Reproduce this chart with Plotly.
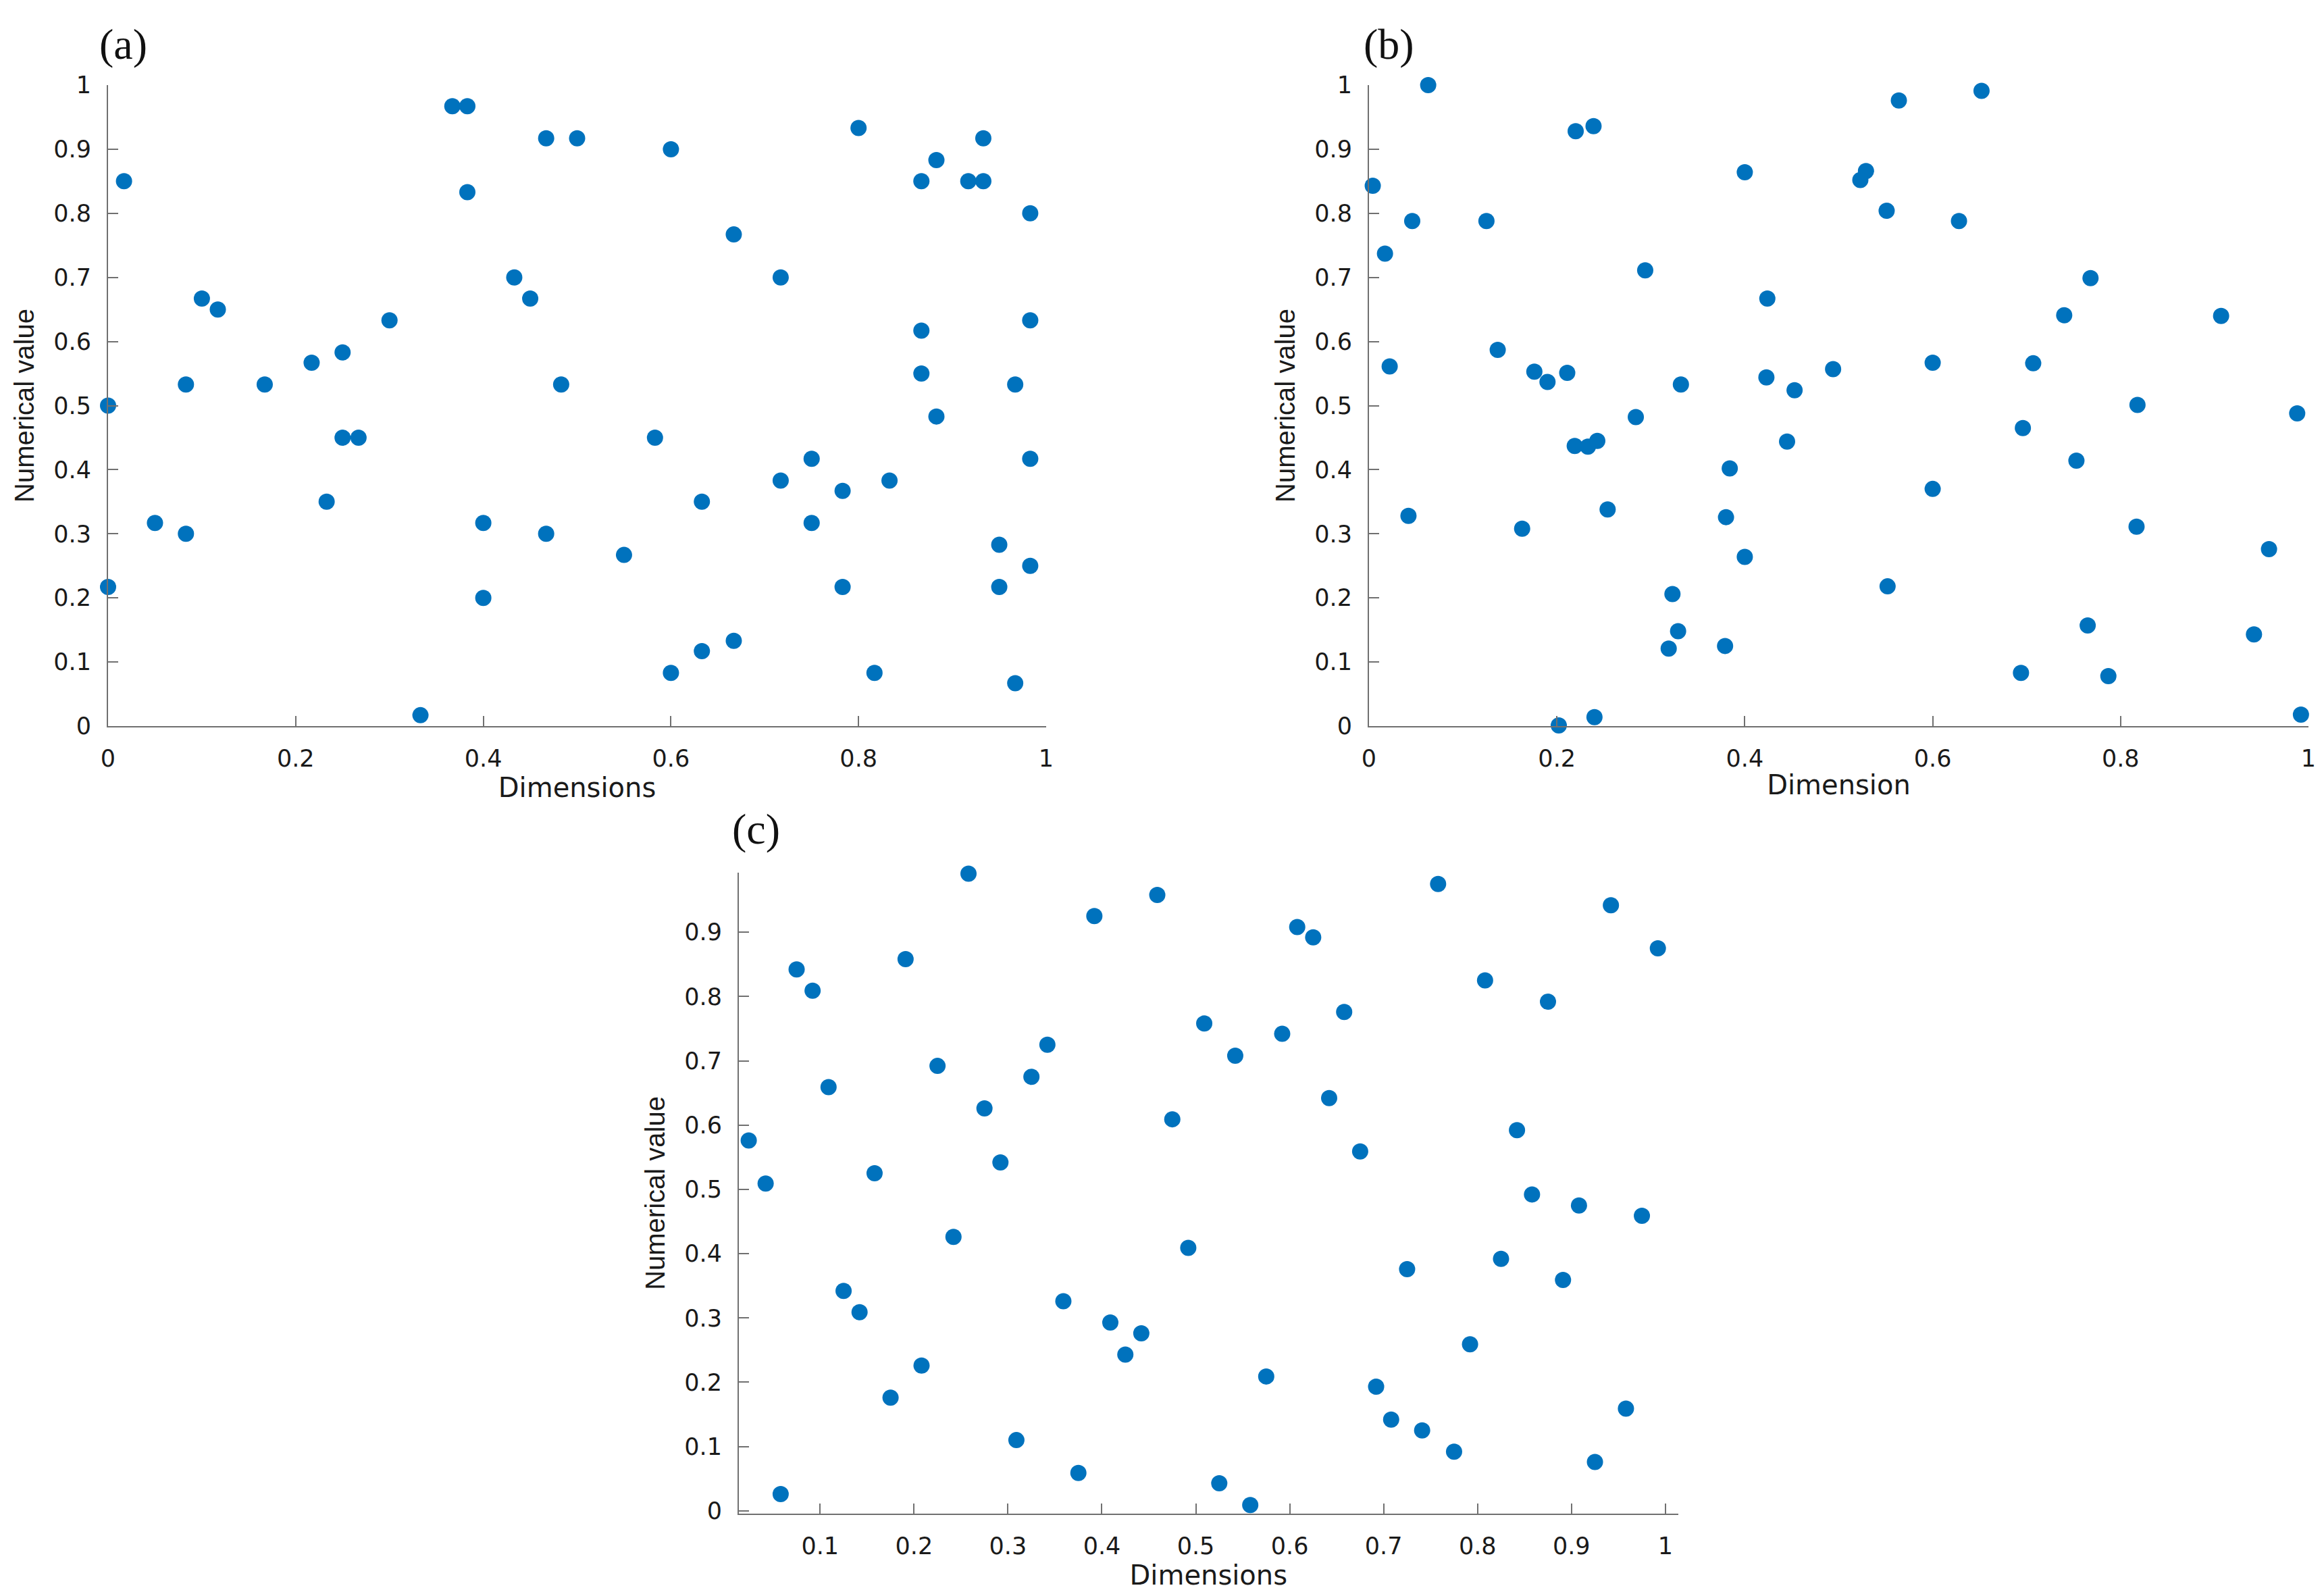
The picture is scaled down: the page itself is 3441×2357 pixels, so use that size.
import plotly.graph_objects as go

# (a) Dimensions vs numerical value
xa = [0, 0, 0.017, 0.05, 0.083, 0.083, 0.1, 0.117, 0.167, 0.217, 0.233, 0.25, 0.25, 0.267, 0.3,
      0.333, 0.367, 0.383, 0.383, 0.4, 0.4, 0.433, 0.45, 0.467, 0.5, 0.467, 0.483, 0.55, 0.583, 0.6,
      0.6, 0.633, 0.633, 0.667, 0.667, 0.717, 0.717, 0.75, 0.75, 0.783, 0.783, 0.8, 0.817, 0.833, 0.867,
      0.867, 0.867, 0.883, 0.883, 0.917, 0.933, 0.933, 0.95, 0.95, 0.967, 0.967, 0.983, 0.983, 0.983, 0.983]
ya = [0.5, 0.217, 0.85, 0.317, 0.3, 0.533, 0.667, 0.65, 0.533, 0.567, 0.35, 0.583, 0.45, 0.45, 0.633,
      0.017, 0.967, 0.967, 0.833, 0.317, 0.2, 0.7, 0.667, 0.917, 0.917, 0.3, 0.533, 0.267, 0.45, 0.9,
      0.083, 0.35, 0.117, 0.133, 0.767, 0.7, 0.383, 0.417, 0.317, 0.367, 0.217, 0.933, 0.083, 0.383, 0.85,
      0.617, 0.55, 0.883, 0.483, 0.85, 0.85, 0.917, 0.283, 0.217, 0.533, 0.067, 0.8, 0.633, 0.417, 0.25]

# (b)
xb = [0.004, 0.017, 0.022, 0.042, 0.046, 0.063, 0.125, 0.137, 0.163, 0.176, 0.190, 0.211, 0.202, 0.220,
      0.239, 0.219, 0.233, 0.243, 0.240, 0.254, 0.284, 0.294, 0.332, 0.323, 0.329, 0.319, 0.384, 0.380,
      0.379, 0.400, 0.564, 0.652, 0.529, 0.523, 0.551, 0.628, 0.768, 0.424, 0.740, 0.907, 0.600, 0.707,
      0.423, 0.494, 0.453, 0.818, 0.988, 0.696, 0.445, 0.753, 0.600, 0.817, 0.400, 0.958, 0.552, 0.765,
      0.942, 0.694, 0.787, 0.992]
yb = [0.843, 0.737, 0.561, 0.328, 0.788, 1.0, 0.788, 0.587, 0.308, 0.553, 0.537, 0.551, 0.001, 0.928,
      0.936, 0.437, 0.436, 0.445, 0.014, 0.338, 0.482, 0.711, 0.533, 0.206, 0.148, 0.121, 0.402, 0.326,
      0.125, 0.864, 0.976, 0.991, 0.866, 0.852, 0.804, 0.788, 0.699, 0.667, 0.641, 0.640, 0.567, 0.566,
      0.544, 0.557, 0.524, 0.501, 0.488, 0.465, 0.444, 0.414, 0.370, 0.311, 0.264, 0.276, 0.218, 0.157,
      0.143, 0.083, 0.078, 0.018]

# (c)
xc = [0.024, 0.042, 0.058, 0.075, 0.092, 0.109, 0.125, 0.142, 0.158, 0.175, 0.191, 0.208, 0.225, 0.242,
      0.258, 0.275, 0.292, 0.309, 0.325, 0.342, 0.359, 0.375, 0.392, 0.409, 0.425, 0.442, 0.459, 0.475,
      0.492, 0.509, 0.525, 0.542, 0.558, 0.575, 0.592, 0.608, 0.625, 0.642, 0.658, 0.675, 0.692, 0.708,
      0.725, 0.741, 0.758, 0.775, 0.792, 0.808, 0.825, 0.842, 0.858, 0.875, 0.891, 0.908, 0.925, 0.942,
      0.958, 0.975, 0.992]
yc = [0.576, 0.509, 0.026, 0.842, 0.809, 0.659, 0.342, 0.309, 0.525, 0.176, 0.858, 0.226, 0.692, 0.426,
      0.991, 0.626, 0.542, 0.110, 0.675, 0.725, 0.326, 0.059, 0.925, 0.293, 0.243, 0.276, 0.958, 0.609,
      0.409, 0.758, 0.043, 0.708, 0.009, 0.209, 0.742, 0.908, 0.892, 0.642, 0.776, 0.559, 0.193, 0.142,
      0.376, 0.125, 0.975, 0.092, 0.259, 0.825, 0.392, 0.592, 0.492, 0.792, 0.359, 0.475, 0.076, 0.942,
      0.159, 0.459, 0.875]

ticks_ab = [0, 0.2, 0.4, 0.6, 0.8, 1]
ticks_ab_text = ["0", "0.2", "0.4", "0.6", "0.8", "1"]
yticks_ab = [0, 0.1, 0.2, 0.3, 0.4, 0.5, 0.6, 0.7, 0.8, 0.9, 1]
yticks_ab_text = ["0", "0.1", "0.2", "0.3", "0.4", "0.5", "0.6", "0.7", "0.8", "0.9", "1"]
xticks_c = [0.1, 0.2, 0.3, 0.4, 0.5, 0.6, 0.7, 0.8, 0.9, 1]
xticks_c_text = ["0.1", "0.2", "0.3", "0.4", "0.5", "0.6", "0.7", "0.8", "0.9", "1"]
yticks_c = [0, 0.1, 0.2, 0.3, 0.4, 0.5, 0.6, 0.7, 0.8, 0.9]
yticks_c_text = ["0", "0.1", "0.2", "0.3", "0.4", "0.5", "0.6", "0.7", "0.8", "0.9"]

BLUE = "#0072BD"
W, H = 3441, 2357

fig = go.Figure()
for x, y, xa_id, ya_id in [(xa, ya, "x", "y"), (xb, yb, "x2", "y2"), (xc, yc, "x3", "y3")]:
    fig.add_trace(go.Scatter(
        x=x, y=y, mode="markers", xaxis=xa_id, yaxis=ya_id,
        marker=dict(color=BLUE, size=24, line=dict(width=0)),
        cliponaxis=False, showlegend=False,
    ))

tickfont = dict(family="DejaVu Sans", size=35, color="#1a1a1a")
xtitlefont = dict(family="DejaVu Sans", size=40, color="#1a1a1a")
ytitlefont = dict(family="Liberation Sans", size=40, color="#1a1a1a")


def ax(**kw):
    base = dict(showline=True, linecolor="#707070", linewidth=2, ticks="inside", ticklen=15,
                tickwidth=2, tickcolor="#707070", showgrid=False, zeroline=False,
                tickfont=tickfont, tickmode="array", fixedrange=True, automargin=False)
    base.update(kw)
    return base


def px_x(a, b):
    return [a / W, b / W]


def px_y(top, bottom):
    return [(H - bottom) / H, (H - top) / H]


fig.update_layout(
    width=W, height=H,
    margin=dict(l=0, r=0, t=0, b=0),
    paper_bgcolor="white", plot_bgcolor="white",
    xaxis=ax(domain=px_x(152, 1541), range=[0, 1], tickvals=ticks_ab, ticktext=ticks_ab_text,
             anchor="y", ticklabelstandoff=16,
             title=dict(text="Dimensions", font=xtitlefont, standoff=6)),
    yaxis=ax(domain=px_y(118, 1067), range=[0, 1], tickvals=yticks_ab, ticktext=yticks_ab_text,
             anchor="x", ticklabelstandoff=16,
             title=dict(text="Numerical value", font=ytitlefont, standoff=16)),
    xaxis2=ax(domain=px_x(2019, 3410), range=[0, 1], tickvals=ticks_ab, ticktext=ticks_ab_text,
              anchor="y2", ticklabelstandoff=16,
              title=dict(text="Dimension", font=xtitlefont, standoff=6)),
    yaxis2=ax(domain=px_y(118, 1067), range=[0, 1], tickvals=yticks_ab, ticktext=yticks_ab_text,
              anchor="x2", ticklabelstandoff=16,
              title=dict(text="Numerical value", font=ytitlefont, standoff=16)),
    xaxis3=ax(domain=px_x(1086, 2476.6), range=[0.0135, 1.0135], tickvals=xticks_c, ticktext=xticks_c_text,
              anchor="y3", ticklabelstandoff=16,
              title=dict(text="Dimensions", font=xtitlefont, standoff=6)),
    yaxis3=ax(domain=px_y(1283.6, 2233.3), range=[-0.0047, 0.993], tickvals=yticks_c, ticktext=yticks_c_text,
              anchor="x3", ticklabelstandoff=16,
              title=dict(text="Numerical value", font=ytitlefont, standoff=16)),
)

panel_font = dict(family="Liberation Serif", size=64, color="#111111")
for label, cx, cy in [("(a)", 174, 58), ("(b)", 2048, 58), ("(c)", 1111, 1219)]:
    fig.add_annotation(text=label, x=cx / W, y=(H - cy) / H, xref="paper", yref="paper",
                       showarrow=False, font=panel_font, xanchor="center", yanchor="middle")

fig.write_html("out.html")
